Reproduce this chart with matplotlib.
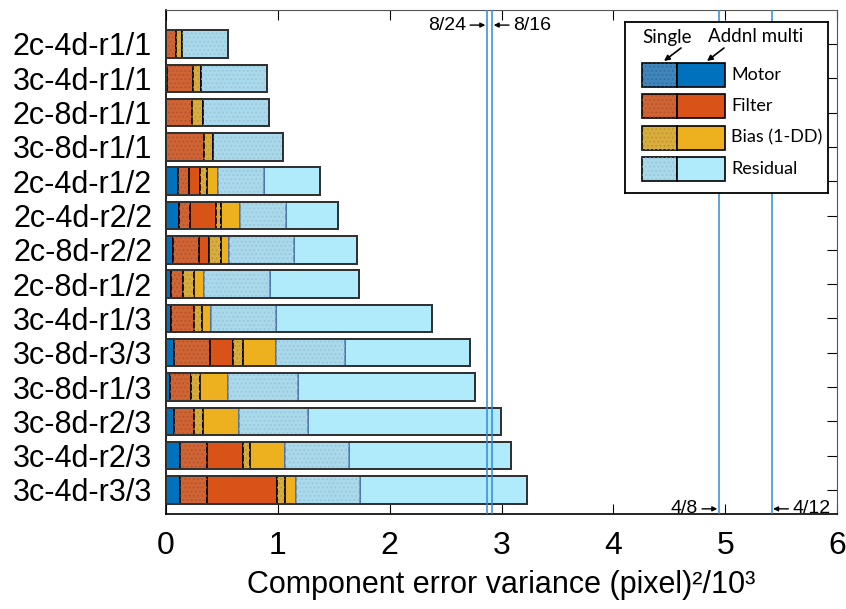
import numpy as np
import matplotlib
matplotlib.use('Agg')
import matplotlib.pyplot as plt
from matplotlib.patches import Rectangle

# Row labels, top to bottom
labels = ['2c-4d-r1/1', '3c-4d-r1/1', '2c-8d-r1/1', '3c-8d-r1/1',
          '2c-4d-r1/2', '2c-4d-r2/2', '2c-8d-r2/2', '2c-8d-r1/2',
          '3c-4d-r1/3', '3c-8d-r3/3', '3c-8d-r1/3', '3c-8d-r2/3',
          '3c-4d-r2/3', '3c-4d-r3/3']

# Component error variance (pixel^2 / 1e3), single part and additional multi part
motor_single = [0.0, 0.01, 0.0, 0.0, 0.0, 0.0, 0.0, 0.0, 0.0, 0.0, 0.0, 0.0, 0.0, 0.0]
motor_multi = [0.0, 0.0, 0.0, 0.0, 0.107, 0.119, 0.063, 0.042, 0.045, 0.069, 0.039, 0.072, 0.122, 0.122]
filter_single = [0.092, 0.234, 0.230, 0.340, 0.096, 0.099, 0.232, 0.110, 0.205, 0.327, 0.182, 0.175, 0.242, 0.242]
filter_multi = [0.0, 0.0, 0.0, 0.0, 0.104, 0.229, 0.092, 0.0, 0.0, 0.206, 0.0, 0.0, 0.325, 0.629]
bias_single = [0.048, 0.072, 0.098, 0.080, 0.057, 0.042, 0.102, 0.095, 0.069, 0.090, 0.083, 0.084, 0.065, 0.074]
bias_multi = [0.0, 0.0, 0.0, 0.0, 0.098, 0.170, 0.071, 0.093, 0.083, 0.289, 0.253, 0.322, 0.310, 0.095]
resid_single = [0.414, 0.587, 0.590, 0.623, 0.411, 0.411, 0.588, 0.590, 0.579, 0.620, 0.620, 0.620, 0.572, 0.573]
resid_multi = [0.0, 0.0, 0.0, 0.0, 0.507, 0.465, 0.557, 0.793, 1.395, 1.119, 1.586, 1.725, 1.446, 1.493]

# Reference lines (threads/chunks) and their labels
ref_x = [2.868, 2.918, 4.942, 5.416]
ref_labels = ['8/24', '8/16', '4/8', '4/12']

comp_names = ['Motor', 'Filter', 'Bias (1-DD)', 'Residual']
single_colors = ['#3f86bd', '#cf6434', '#d8ad3c', '#a9d9ea']
multi_colors = ['#0072bd', '#d95319', '#edb120', '#b0ebfc']
texture_colors = ['#336f9e', '#b5532d', '#bf9731', '#97c6d8']

plt.rcParams['font.family'] = ['Liberation Sans', 'DejaVu Sans']
plt.rcParams['hatch.linewidth'] = 0.8


def textured_barh(ax, y, w, left, color, tex, edge, lw, z):
    ax.barh(y, w, left=left, height=0.8, color=color, edgecolor=edge, linewidth=lw, zorder=z)
    ax.barh(y, w, left=left, height=0.8, facecolor='none', edgecolor=tex, hatch='....',
            linewidth=0, zorder=z + 0.1)


def draw_bars(ax):
    y = np.arange(len(labels))
    singles = [motor_single, filter_single, bias_single, resid_single]
    multis = [motor_multi, filter_multi, bias_multi, resid_multi]
    has_multi = np.array(motor_multi) + np.array(filter_multi) + np.array(bias_multi) + np.array(resid_multi) > 0

    left = np.zeros(len(labels))
    for k in range(4):
        s = np.array(singles[k])
        m = np.array(multis[k])
        if k == 3:
            # residual single gets a blue outline in rows that also have multi parts
            edges = ['#5b86c4' if h else 'black' for h in has_multi]
            z = 4
        else:
            edges = 'black'
            z = 3
        textured_barh(ax, y, s, left, single_colors[k], texture_colors[k], edges, 1.2, z)
        left = left + s
        ax.barh(y, m, left=left, height=0.8, color=multi_colors[k], edgecolor='black',
                linewidth=1.2, zorder=3)
        left = left + m

    # outer outline
    ax.barh(y, left, height=0.8, facecolor='none', edgecolor='#333333', linewidth=1.4, zorder=5)


def draw_ref_lines(ax):
    for i, (x, lab) in enumerate(zip(ref_x, ref_labels)):
        ax.axvline(x, color='#2f8bd6', linewidth=1.1, zorder=6)
        yy = -0.55 if i < 2 else 13.55
        dx = -15 if i % 2 == 0 else 15
        ax.annotate(lab, xy=(x, yy), xytext=(dx, 0), textcoords='offset points',
                    ha='right' if dx < 0 else 'left', va='center', fontsize=14,
                    arrowprops=dict(arrowstyle='-|>', color='black', lw=1,
                                    mutation_scale=7, shrinkA=1, shrinkB=1))


def draw_legend(fig):
    # small axes in pixel units holding the hand-made legend box
    W, H = 846, 609
    x0, y0, w, h = 625, 22, 203, 171
    lax = fig.add_axes([x0 / W, 1 - (y0 + h) / H, w / W, h / H])
    lax.set_xlim(0, w)
    lax.set_ylim(h, 0)
    lax.set_xticks([])
    lax.set_yticks([])
    for sp in lax.spines.values():
        sp.set_linewidth(1.3)
        sp.set_color('black')
    lax.set_zorder(10)

    fam = ['Lato', 'DejaVu Sans']
    lax.text(42, 15, 'Single', ha='center', va='center', fontsize=13.5, family=fam)
    lax.text(131, 15, 'Addnl multi', ha='center', va='center', fontsize=13.5, family=fam)
    lax.annotate('', xy=(39, 39), xytext=(56, 26),
                 arrowprops=dict(arrowstyle='-|>', color='black', lw=1.2, mutation_scale=8,
                                 shrinkA=0, shrinkB=0))
    lax.annotate('', xy=(82, 39), xytext=(99, 26),
                 arrowprops=dict(arrowstyle='-|>', color='black', lw=1.2, mutation_scale=8,
                                 shrinkA=0, shrinkB=0))

    for k in range(4):
        top = 41 + k * 31.3
        lax.add_patch(Rectangle((17, top), 35, 24, facecolor=single_colors[k],
                                edgecolor='black', linewidth=1.2))
        lax.add_patch(Rectangle((17, top), 35, 24, facecolor='none', edgecolor=texture_colors[k],
                                hatch='....', linewidth=0))
        lax.add_patch(Rectangle((52, top), 48, 24, facecolor=multi_colors[k],
                                edgecolor='black', linewidth=1.2))
        lax.text(106, top + 12, comp_names[k], ha='left', va='center', fontsize=13, family=fam)


def main():
    fig = plt.figure(figsize=(8.46, 6.09), dpi=100)
    ax = fig.add_axes([166 / 846, 1 - 514 / 609, (837 - 166) / 846, (514 - 10) / 609])

    draw_bars(ax)
    draw_ref_lines(ax)

    ax.set_xlim(0, 6)
    ax.set_ylim(13.7, -0.99)
    ax.set_yticks(np.arange(len(labels)))
    ax.set_yticklabels(labels, fontsize=22)
    ax.set_xticks(range(7))
    ax.tick_params(axis='x', labelsize=23, direction='in', length=7, top=True, pad=12)
    ax.tick_params(axis='y', direction='in', length=7, right=True, pad=10)
    ax.set_xlabel('Component error variance (pixel)\u00b2/10\u00b3', fontsize=22, labelpad=7)

    for side in ['top', 'right']:
        ax.spines[side].set_color('#555555')
    for side in ['left', 'bottom']:
        ax.spines[side].set_color('black')
        ax.spines[side].set_linewidth(1.2)

    draw_legend(fig)

    plt.savefig('out.png', dpi=100)


if __name__ == "__main__":
    main()
